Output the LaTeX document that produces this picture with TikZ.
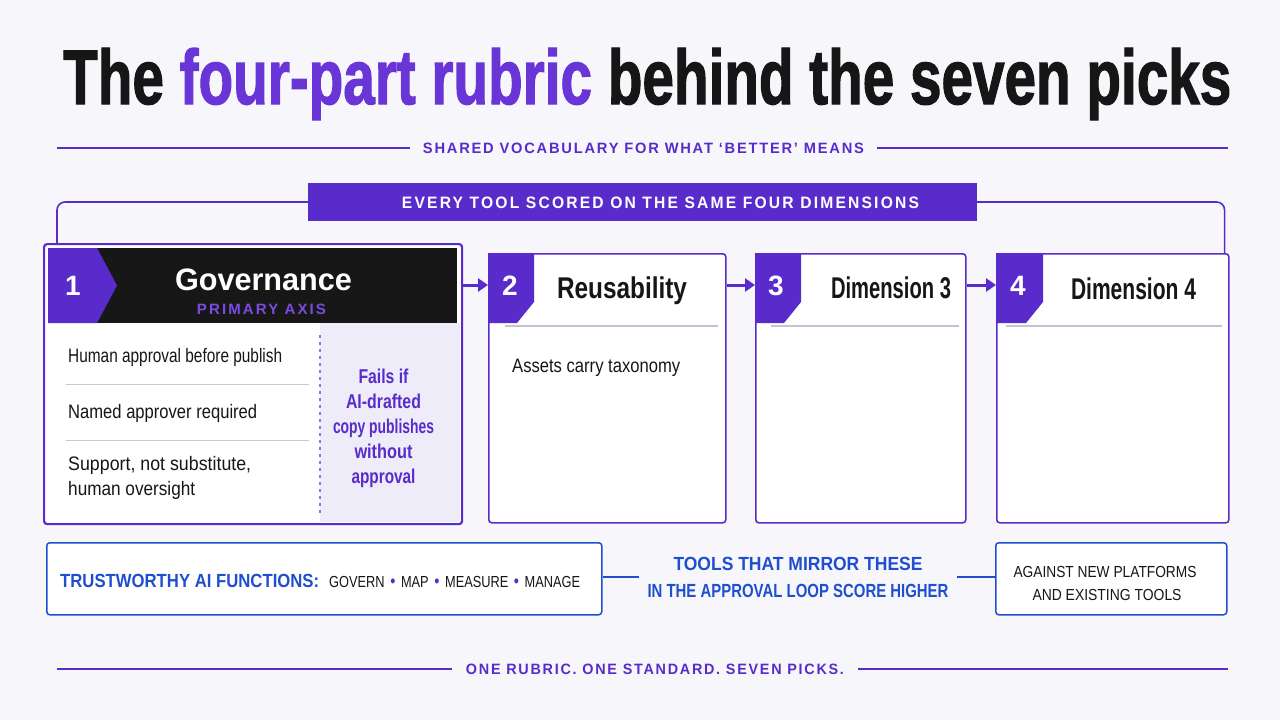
\documentclass[tikz,border=0pt]{standalone}
\usepackage{fontspec}
\setmainfont{Liberation Sans}
\newfontfamily\titlef{Liberation Sans}[BoldFeatures={FakeBold=1.8}]
\usetikzlibrary{arrows.meta}
\definecolor{bg}{HTML}{F7F7FB}
\definecolor{pur}{HTML}{5A2BCB}
\definecolor{tpur}{HTML}{6A35D6}
\definecolor{lpur}{HTML}{7A4BE0}
\definecolor{blu}{HTML}{1F4FCF}
\definecolor{ink}{HTML}{161616}
\definecolor{hdr}{HTML}{171717}
\definecolor{lav}{HTML}{EEECF8}
\definecolor{sepc}{HTML}{C9C9CD}
\definecolor{rulec}{HTML}{C4C2D4}
\newcommand\fitw[2]{\resizebox{#1}{\height}{#2}}
\newcommand\sz[1]{\fontsize{#1}{#1}\selectfont}
\newcommand\ls[1]{\addfontfeatures{LetterSpace=#1}}
\newcommand\pdot{\hspace{7pt}\textcolor{pur}{\scalebox{1.15}{•}}\hspace{7pt}}
\begin{document}
\begin{tikzpicture}[x=1pt,y=-1pt,
  txt/.style={inner sep=0pt, anchor=base},
  txtw/.style={inner sep=0pt, anchor=base west},
  ctxt/.style={inner sep=0pt, anchor=center},
  card/.style={draw=pur, line width=1.6pt, fill=white, rounded corners=3pt, anchor=north west, inner sep=0pt},
  rulel/.style={draw=pur, line width=1.6pt},
  link/.style={draw=pur, line width=3pt},
  arr/.style={link, -{Triangle[length=10pt,width=13pt]}},
  bline/.style={draw=blu, line width=1.6pt},
  bbox/.style={draw=blu, line width=1.5pt, fill=white, rounded corners=3pt, inner sep=0pt},
  sepl/.style={draw=sepc, line width=1pt},
  hrule/.style={draw=rulec, line width=1.2pt},
  tag/.style={fill=pur},
]
\useasboundingbox[fill=bg] (0,0) rectangle (1280,720);

% title
\node[txtw] (title) at (63,104) {\resizebox{1168pt}{56pt}{\titlef\bfseries\color{ink}The \textcolor{tpur}{four-part rubric} behind the seven picks}};

% subtitle rule
\node[ctxt, inner xsep=13pt] (sub) at (643.5,148) {\fitw{441pt}{\sz{15}\bfseries\ls{12}\color{pur}SHARED VOCABULARY FOR WHAT ‘BETTER’ MEANS}};
\coordinate (subL) at (57,148);
\coordinate (subR) at (1228,148);
\draw[rulel] (subL) -- (sub.west);
\draw[rulel] (sub.east) -- (subR);

% banner
\node[fill=pur, minimum width=669pt, minimum height=38pt, inner sep=0pt] (banner) at (642.5,202) {};
\node[ctxt] (bannertxt) at (660.5,203) {\fitw{517pt}{\sz{16.5}\bfseries\ls{14}\color{white}EVERY TOOL SCORED ON THE SAME FOUR DIMENSIONS}};

% ---------- card 1 ----------
\fill[white, rounded corners=3pt] (43,243) rectangle (461,523);
\fill[lav] (320,323) rectangle (459.5,521.5);
\fill[hdr] (48,248) rectangle (457,323);
\fill[tag] (48,248) -- (97,248) -- (117,285.5) -- (97,323) -- (48,323) -- cycle;
\node[card, fill=none, line width=2.2pt, minimum width=418pt, minimum height=280pt] (b1) at (43,243) {};
\node[ctxt] (n1) at (73,285.5) {\sz{28}\bfseries\color{white}1};
\node[txt] (t1) at (263.5,290) {\fitw{177pt}{\sz{31}\bfseries\color{white}Governance}};
\node[ctxt] (p1) at (261.5,309) {\fitw{129pt}{\sz{15}\bfseries\ls{14}\color{lpur}PRIMARY AXIS}};
\node[txtw] (i1) at (68,362) {\fitw{214pt}{\sz{19.5}\color{ink}Human approval before publish}};
\node[txtw] (i2) at (68,418) {\fitw{189pt}{\sz{19.5}\color{ink}Named approver required}};
\node[txtw] (i3) at (68,470) {\fitw{183pt}{\sz{19.5}\color{ink}Support, not substitute,}};
\node[txtw] (i4) at (68,495) {\fitw{127pt}{\sz{19.5}\color{ink}human oversight}};
\draw[sepl] (66,384) -- (309,384);
\draw[sepl] (66,440) -- (309,440);
\draw[draw=lpur!80, line width=1.3pt, dash pattern=on 3pt off 4pt] (320,335) -- (320,514);
\node[txt] (f1) at (383.5,383) {\fitw{50pt}{\sz{20}\bfseries\color{pur}Fails if}};
\node[txt] (f2) at (383.5,408) {\fitw{75pt}{\sz{20}\bfseries\color{pur}AI-drafted}};
\node[txt] (f3) at (383.5,433) {\fitw{101pt}{\sz{20}\bfseries\color{pur}copy publishes}};
\node[txt] (f4) at (383.5,458) {\fitw{58pt}{\sz{20}\bfseries\color{pur}without}};
\node[txt] (f5) at (383.5,483) {\fitw{64pt}{\sz{20}\bfseries\color{pur}approval}};

% ---------- card 2 ----------
\node[card, minimum width=237pt, minimum height=269pt] (b2) at (488,253) {};
\fill[tag] (488,253) -- (534,253) -- (534,302) -- (517,323) -- (488,323) -- cycle;
\node[ctxt] (n2) at (510,285.5) {\sz{28}\bfseries\color{white}2};
\node[txt] (t2) at (622,298) {\fitw{130pt}{\sz{30}\bfseries\color{ink}Reusability}};
\draw[hrule] (505,326) -- (718,326);
\node[txtw] (a2) at (512,372) {\fitw{168pt}{\sz{19.5}\color{ink}Assets carry taxonomy}};

% ---------- card 3 ----------
\node[card, minimum width=210pt, minimum height=269pt] (b3) at (755,253) {};
\fill[tag] (755,253) -- (801,253) -- (801,302) -- (784,323) -- (755,323) -- cycle;
\node[ctxt] (n3) at (776,285.5) {\sz{28}\bfseries\color{white}3};
\node[txt] (t3) at (891,298) {\fitw{120pt}{\sz{30}\bfseries\color{ink}Dimension 3}};
\draw[hrule] (771,326) -- (959,326);

% ---------- card 4 ----------
\node[card, minimum width=232pt, minimum height=269pt] (b4) at (996,253) {};
\fill[tag] (996,253) -- (1043,253) -- (1043,302) -- (1026,323) -- (996,323) -- cycle;
\node[ctxt] (n4) at (1018,285.5) {\sz{28}\bfseries\color{white}4};
\node[txt] (t4) at (1133.5,299) {\fitw{125pt}{\sz{30}\bfseries\color{ink}Dimension 4}};
\draw[hrule] (1006,326) -- (1222,326);

% arrows between cards
\coordinate (ay) at (0,285);
\draw[arr] (b1.east |- ay) -- (b2.west |- ay);
\draw[arr] (b2.east |- ay) -- (b3.west |- ay);
\draw[arr] (b3.east |- ay) -- (b4.west |- ay);

% bracket from banner
\draw[rulel, rounded corners=8pt] (banner.west) -| ([xshift=14pt]b1.north west);
\draw[rulel, rounded corners=8pt] (banner.east) -| ([xshift=-5pt]b4.north east);

% ---------- bottom row ----------
\node[bbox, minimum width=555pt, minimum height=72pt, anchor=north west] (bA) at (46,542) {};
\node[txtw] (bAt) at (60,587) {\fitw{259pt}{\sz{19}\bfseries\color{blu}TRUSTWORTHY AI FUNCTIONS:}};
\node[txtw] (bAf) at (329,587) {\fitw{251pt}{\sz{16}\color{ink}GOVERN\pdot{}MAP\pdot{}MEASURE\pdot{}MANAGE}};
\node[inner xsep=8pt, inner ysep=0pt, align=center, font=\sz{19}] (mid) at (798,577) {\fitw{249pt}{\sz{19}\bfseries\color{blu}TOOLS THAT MIRROR THESE}\\[8pt]\fitw{301pt}{\sz{19}\bfseries\color{blu}IN THE APPROVAL LOOP SCORE HIGHER}};
\node[bbox, minimum width=231pt, minimum height=72pt, anchor=north west] (bC) at (995,542) {};
\node[txt] (c1) at (1105,577) {\fitw{183pt}{\sz{16}\color{ink}AGAINST NEW PLATFORMS}};
\node[txt] (c2) at (1107,600) {\fitw{149pt}{\sz{16}\color{ink}AND EXISTING TOOLS}};
\draw[bline] (bA.east |- mid) -- (mid.west);
\draw[bline] (mid.east) -- (bC.west |- mid);

% footer
\node[ctxt, inner xsep=14pt] (foot) at (655,669) {\fitw{378pt}{\sz{15}\bfseries\ls{12}\color{pur}ONE RUBRIC. ONE STANDARD. SEVEN PICKS.}};
\coordinate (footL) at (57,669);
\coordinate (footR) at (1228,669);
\draw[rulel] (footL) -- (foot.west);
\draw[rulel] (foot.east) -- (footR);
\end{tikzpicture}
\end{document}
